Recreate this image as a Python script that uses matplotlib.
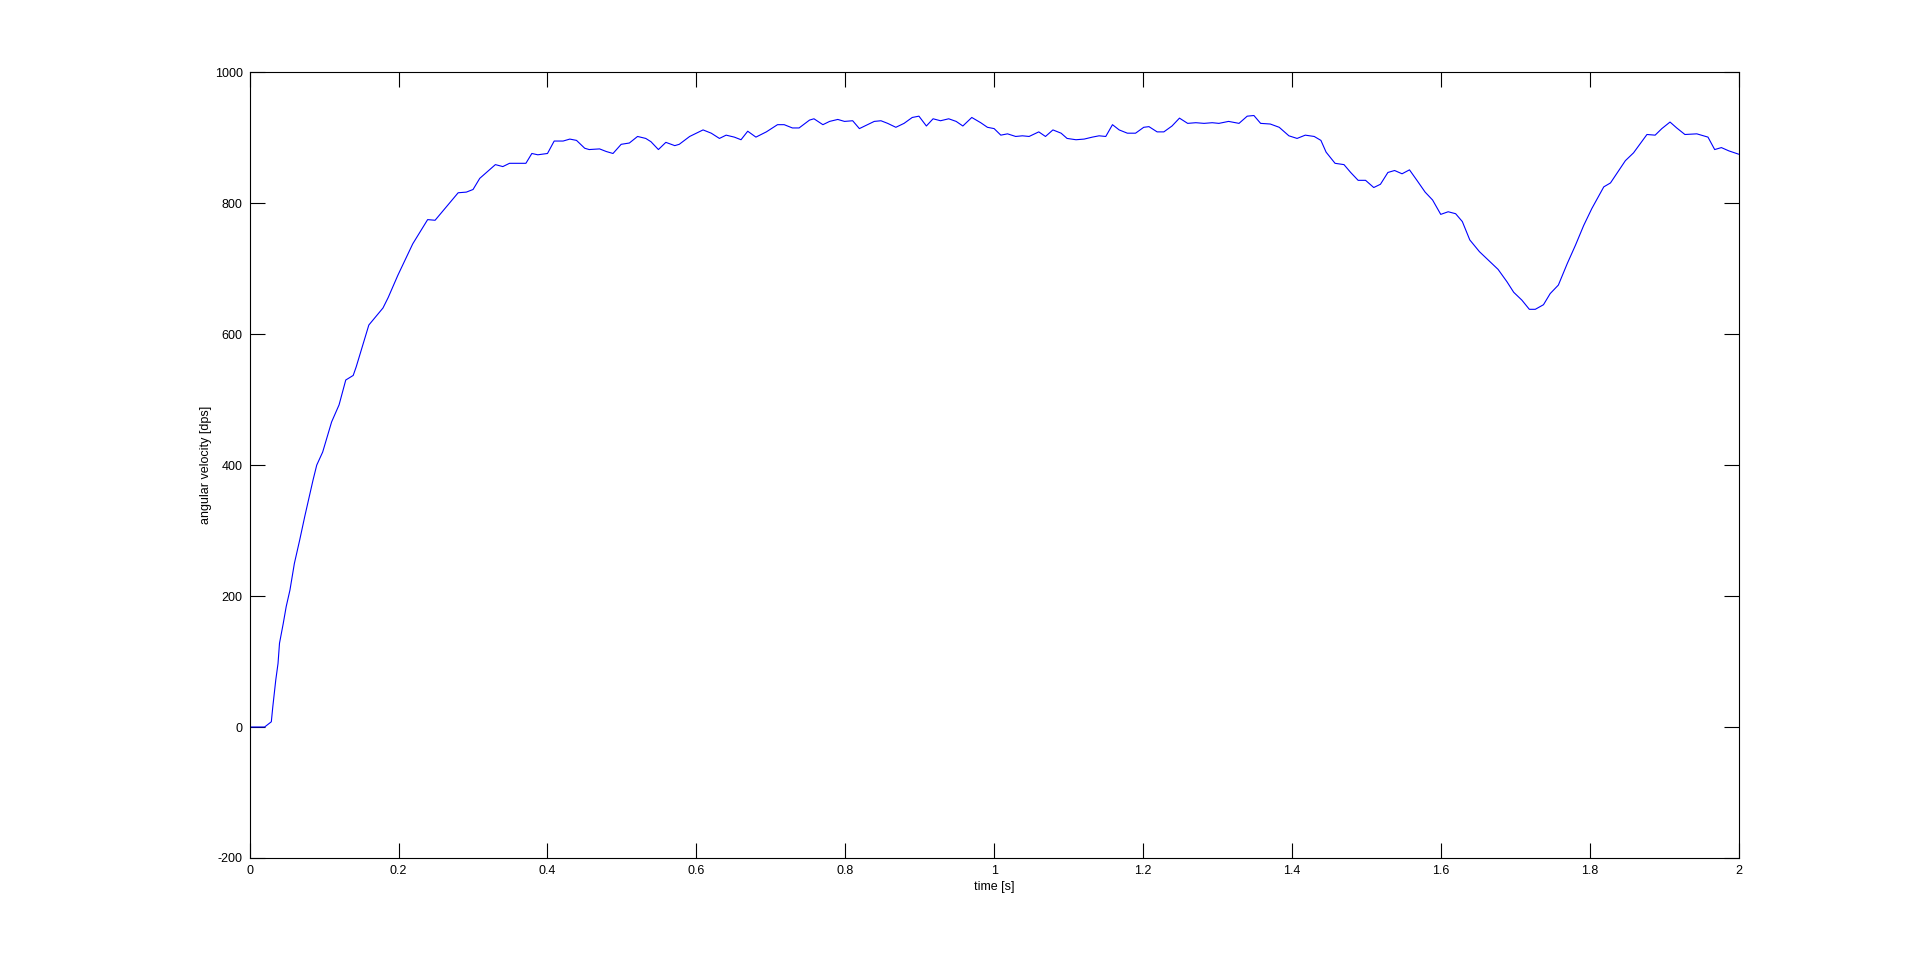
import numpy as np
import matplotlib
matplotlib.use("Agg")
import matplotlib.pyplot as plt

# ==========================================
# Data
# ==========================================

time_s = [
    0.000, 0.020, 0.029, 0.031, 0.035, 0.038, 0.040, 0.045, 0.049, 0.054,
    0.060, 0.067, 0.074, 0.085, 0.090, 0.098, 0.110, 0.120, 0.129, 0.139,
    0.143, 0.160, 0.179, 0.186, 0.199, 0.219, 0.239, 0.249, 0.280, 0.291,
    0.300, 0.309, 0.330, 0.340, 0.349, 0.371, 0.379, 0.387, 0.400, 0.409,
    0.421, 0.430, 0.439, 0.450, 0.456, 0.470, 0.479, 0.488, 0.499, 0.510,
    0.521, 0.532, 0.539, 0.549, 0.559, 0.571, 0.577, 0.591, 0.600, 0.609,
    0.620, 0.631, 0.640, 0.651, 0.660, 0.669, 0.680, 0.694, 0.709, 0.718,
    0.729, 0.738, 0.752, 0.758, 0.770, 0.779, 0.790, 0.799, 0.810, 0.819,
    0.828, 0.839, 0.848, 0.857, 0.868, 0.879, 0.890, 0.899, 0.909, 0.918,
    0.928, 0.939, 0.949, 0.958, 0.970, 0.982, 0.991, 1.000, 1.009, 1.018,
    1.029, 1.038, 1.047, 1.060, 1.069, 1.079, 1.090, 1.098, 1.110, 1.121,
    1.132, 1.141, 1.150, 1.159, 1.168, 1.179, 1.190, 1.201, 1.208, 1.219,
    1.228, 1.239, 1.249, 1.260, 1.271, 1.282, 1.293, 1.302, 1.315, 1.329,
    1.340, 1.349, 1.358, 1.371, 1.383, 1.396, 1.407, 1.418, 1.430, 1.439,
    1.446, 1.458, 1.470, 1.479, 1.489, 1.499, 1.510, 1.519, 1.529, 1.538,
    1.548, 1.558, 1.568, 1.579, 1.589, 1.600, 1.610, 1.620, 1.629, 1.639,
    1.652, 1.664, 1.677, 1.689, 1.698, 1.709, 1.719, 1.727, 1.738, 1.747,
    1.758, 1.770, 1.781, 1.792, 1.803, 1.819, 1.828, 1.848, 1.859, 1.877,
    1.888, 1.897, 1.908, 1.917, 1.928, 1.944, 1.959, 1.968, 1.977, 1.987,
    2.000,
]

angular_velocity = [
    0, 0, 8, 31, 72, 97, 128, 158, 184, 209,
    250, 285, 322, 377, 400, 420, 466, 492, 530, 537,
    550, 614, 640, 656, 690, 738, 775, 774, 816, 817,
    821, 838, 859, 856, 861, 861, 876, 874, 876, 895,
    895, 898, 896, 884, 882, 883, 879, 876, 890, 892,
    902, 899, 894, 882, 893, 888, 890, 902, 907, 912,
    907, 899, 904, 901, 897, 910, 901, 909, 920, 920,
    915, 915, 927, 929, 920, 925, 928, 925, 926, 914,
    919, 925, 926, 922, 916, 922, 931, 933, 918, 929,
    926, 929, 925, 918, 931, 923, 916, 914, 904, 906,
    902, 903, 902, 909, 902, 912, 907, 899, 897, 898,
    901, 903, 902, 920, 912, 907, 907, 916, 917, 909,
    909, 918, 930, 922, 923, 922, 923, 922, 925, 922,
    933, 934, 922, 921, 916, 903, 899, 904, 902, 896,
    878, 861, 859, 847, 835, 835, 824, 829, 847, 850,
    845, 851, 835, 817, 805, 783, 787, 784, 772, 744,
    726, 713, 699, 680, 664, 652, 638, 638, 645, 662,
    675, 708, 736, 766, 792, 825, 831, 865, 877, 905,
    904, 914, 924, 915, 905, 906, 901, 882, 885, 880,
    875,
]

x_ticks = [0, 0.2, 0.4, 0.6, 0.8, 1, 1.2, 1.4, 1.6, 1.8, 2]
x_tick_labels = ["0", "0.2", "0.4", "0.6", "0.8", "1", "1.2", "1.4", "1.6", "1.8", "2"]
y_ticks = [-200, 0, 200, 400, 600, 800, 1000]

# ==========================================
# Plot
# ==========================================

plt.rcParams["font.family"] = ["Liberation Sans Narrow", "Liberation Sans", "DejaVu Sans"]
plt.rcParams["axes.unicode_minus"] = False

fig = plt.figure(figsize=(19.21, 9.64), dpi=100)
ax = fig.add_axes([0.13, 0.11, 0.775, 0.815])

ax.plot(time_s, angular_velocity, color="#0000ff", linewidth=0.8)

ax.set_xlim(0, 2)
ax.set_ylim(-200, 1000)
ax.set_xticks(x_ticks)
ax.set_xticklabels(x_tick_labels)
ax.set_yticks(y_ticks)

ax.tick_params(direction="in", length=10.8, width=0.8, labelsize=9,
               top=True, right=True, pad=5, colors="black")
for spine in ax.spines.values():
    spine.set_linewidth(0.8)

ax.set_xlabel("time [s]", fontsize=9, labelpad=3)
ax.set_ylabel("angular velocity [dps]", fontsize=9, labelpad=2)

fig.savefig("out.png", dpi=100, facecolor="white")
